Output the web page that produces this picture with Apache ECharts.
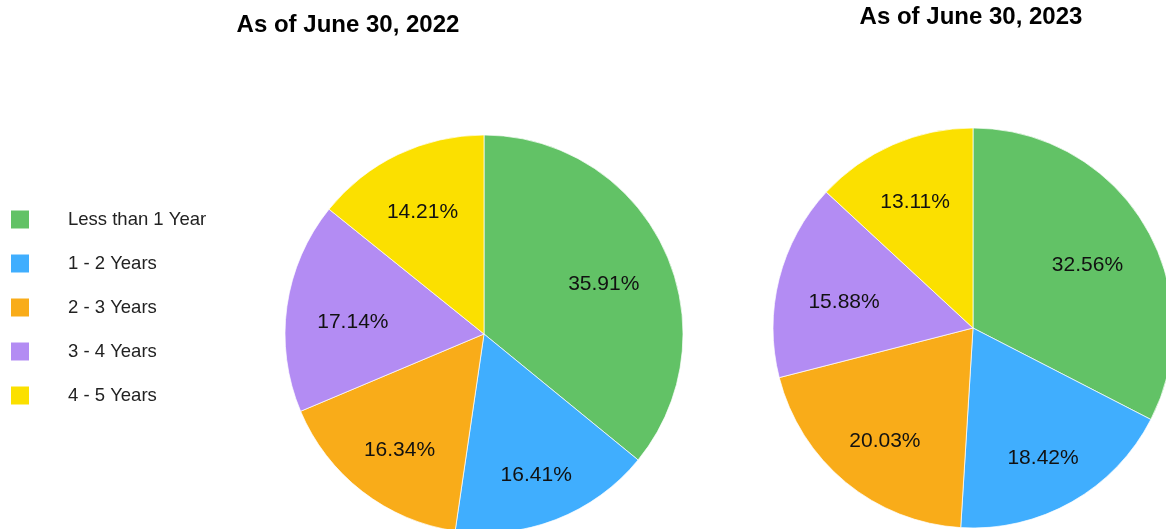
<!DOCTYPE html>
<html>
<head>
<meta charset="utf-8">
<script src="https://cdn.jsdelivr.net/npm/echarts@6/dist/echarts.min.js"></script>
<style>html,body{margin:0;padding:0;background:#fff}#c{width:1166px;height:529px}</style>
</head>
<body>
<div id="c"></div>
<script>
var categories = ['Less than 1 Year', '1 - 2 Years', '2 - 3 Years', '3 - 4 Years', '4 - 5 Years'];
var values2022 = [35.91, 16.41, 16.34, 17.14, 14.21];
var values2023 = [32.56, 18.42, 20.03, 15.88, 13.11];
var titles = ['As of June 30, 2022', 'As of June 30, 2023'];
var colors = ['#62c266', '#40aefe', '#f9ac19', '#b38cf3', '#fbe000'];

var FONT = 'Arial, "Liberation Sans", sans-serif';
var pies = [
  { cx: 484, cy: 334, r: 199, values: values2022, titleX: 348, titleY: 13 },
  { cx: 973, cy: 328, r: 200, values: values2023, titleX: 971, titleY: 5 }
];

function mkData(vals) {
  return categories.map(function (n, i) { return { name: n, value: vals[i] }; });
}

function layoutFor(p) {
  return function (params) {
    var lr = params.labelRect;
    var x0 = lr.x + lr.width / 2, y0 = lr.y + lr.height / 2;
    var vx = x0 - p.cx, vy = y0 - p.cy;
    var len = Math.sqrt(vx * vx + vy * vy) || 1;
    var ux = vx / len, uy = vy / len;
    var hw = lr.width / 2, hh = 10;
    var R = 0.85 * p.r;
    var b = Math.abs(ux) * hw + Math.abs(uy) * hh;
    var c = hw * hw + hh * hh - R * R;
    var t = -b + Math.sqrt(b * b - c);
    return { dx: p.cx + ux * t - x0, dy: p.cy + uy * t - y0 + 7 };
  };
}

var chart = echarts.init(document.getElementById('c'), null, { renderer: 'canvas' });
chart.setOption({
  animation: false,
  color: colors,
  title: pies.map(function (p, i) {
    return {
      text: titles[i], left: p.titleX, top: p.titleY, textAlign: 'center', padding: 0,
      textStyle: { fontFamily: FONT, fontSize: 24, fontWeight: 'bold', color: '#000', lineHeight: 24 }
    };
  }),
  legend: {
    orient: 'vertical', left: 11, top: 210, padding: 0,
    itemWidth: 18, itemHeight: 18, itemGap: 25, icon: 'rect',
    itemStyle: { borderWidth: 0 },
    data: categories,
    textStyle: { fontFamily: FONT, fontSize: 18.5, color: '#222', lineHeight: 18, padding: [0, 0, 0, 34] },
    selectedMode: false
  },
  series: pies.map(function (p) {
    return {
      type: 'pie',
      center: [p.cx, p.cy],
      radius: [0, p.r],
      startAngle: 90,
      clockwise: true,
      silent: true,
      data: mkData(p.values),
      itemStyle: { borderColor: '#fff', borderWidth: 0.7 },
      label: {
        show: true, position: 'inside',
        formatter: function (d) { return d.value.toFixed(2) + '%'; },
        fontFamily: FONT, fontSize: 21, color: '#111'
      },
      labelLine: { show: false },
      labelLayout: layoutFor(p),
      emphasis: { disabled: true }
    };
  })
});
</script>
</body>
</html>
